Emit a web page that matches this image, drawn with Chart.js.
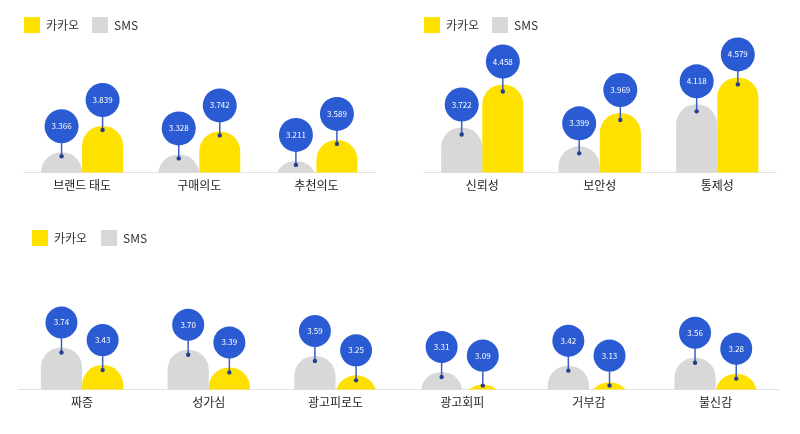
<!DOCTYPE html>
<html>
<head>
<meta charset="utf-8">
<script src="https://cdn.jsdelivr.net/npm/chart.js@4"></script>
<style>
  html, body { margin: 0; padding: 0; background: #fff; }
  body { width: 800px; height: 434px; position: relative; overflow: hidden; }
  canvas { position: absolute; }
</style>
</head>
<body>
<canvas id="intentChart" width="400" height="200" style="left:0;top:0"></canvas>
<canvas id="trustChart" width="400" height="200" style="left:400px;top:0"></canvas>
<canvas id="annoyChart" width="800" height="219" style="left:0;top:215px"></canvas>
<script>
// values
const intentLabels = ['브랜드 태도', '구매의도', '추천의도'];
const intentSms = [3.366, 3.328, 3.211];
const intentKakao = [3.839, 3.742, 3.589];

const trustLabels = ['신뢰성', '보안성', '통제성'];
const trustSms = [3.722, 3.399, 4.118];
const trustKakao = [4.458, 3.969, 4.579];

const annoyLabels = ['짜증', '성가심', '광고피로도', '광고회피', '거부감', '불신감'];
const annoySms = [3.74, 3.70, 3.59, 3.31, 3.42, 3.56];
const annoyKakao = [3.43, 3.39, 3.25, 3.09, 3.13, 3.28];

const YELLOW = '#ffe100';
const GRAY = '#d9d8d8';
const BLUE = '#2a5bd2';
const FONT = "'Noto Sans CJK KR', 'Noto Sans', sans-serif";

// blue pin with the value, standing on top of every bar
const pinPlugin = {
    id: 'pins',
    afterDatasetsDraw(chart, args, opts) {
        const ctx = chart.ctx;
        const base = chart.chartArea.bottom;
        ctx.save();
        chart.data.datasets.forEach((ds, i) => {
            chart.getDatasetMeta(i).data.forEach((bar, j) => {
                const dotY = Math.min(bar.y + opts.dot, base - 4);
                const cy = dotY - 30;
                ctx.strokeStyle = '#3d5cc4';
                ctx.lineWidth = 1.5;
                ctx.beginPath();
                ctx.moveTo(bar.x, cy);
                ctx.lineTo(bar.x, dotY);
                ctx.stroke();
                ctx.fillStyle = '#24408f';
                ctx.beginPath();
                ctx.arc(bar.x, dotY, 2.2, 0, Math.PI * 2);
                ctx.fill();
                ctx.fillStyle = BLUE;
                ctx.beginPath();
                ctx.arc(bar.x, cy, opts.r, 0, Math.PI * 2);
                ctx.fill();
                ctx.fillStyle = '#fff';
                ctx.font = '8px ' + FONT;
                ctx.textAlign = 'center';
                ctx.textBaseline = 'middle';
                ctx.fillText(ds.data[j].toFixed(opts.decimals), bar.x, cy);
            });
        });
        ctx.restore();
    }
};

function makeChart(id, labels, sms, kakao, o) {
    return new Chart(document.getElementById(id), {
        type: 'bar',
        data: {
            labels: labels,
            datasets: [
                {label: 'SMS', data: sms, backgroundColor: GRAY},
                {label: '카카오', data: kakao, backgroundColor: YELLOW}
            ]
        },
        options: {
            responsive: false,
            animation: false,
            layout: {padding: o.pad},
            datasets: {
                bar: {
                    barPercentage: 1,
                    categoryPercentage: o.catPct,
                    borderRadius: 20,
                    borderWidth: 0
                }
            },
            scales: {
                x: {
                    grid: {display: false, drawTicks: false},
                    border: {display: true, color: '#e2e2e2', width: 1},
                    ticks: {color: '#1e1e1e', padding: 6, font: {family: FONT, size: 12}}
                },
                y: {
                    min: o.min,
                    max: o.max,
                    grid: {display: false, drawTicks: false},
                    border: {display: false},
                    ticks: {display: false},
                    afterFit(scale) { scale.width = o.yWidth; }
                }
            },
            plugins: {
                legend: {
                    align: 'start',
                    reverse: true,
                    labels: {
                        boxWidth: 16,
                        boxHeight: 16,
                        padding: o.legendPad,
                        color: '#333',
                        font: {family: FONT, size: 12}
                    }
                },
                tooltip: {enabled: false},
                pins: {r: o.r, decimals: o.decimals, dot: o.dot}
            }
        },
        plugins: [pinPlugin]
    });
}

makeChart('intentChart', intentLabels, intentSms, intentKakao, {
    pad: {left: 11, top: 4, right: 25, bottom: 1},
    yWidth: 12.5, legendPad: 13, catPct: 0.70,
    min: 3, max: 5.333, r: 17, decimals: 3, dot: 4
});
makeChart('trustChart', trustLabels, trustSms, trustKakao, {
    pad: {left: 11, top: 4, right: 24, bottom: 1},
    yWidth: 12.5, legendPad: 13, catPct: 0.70,
    min: 2.95, max: 5.168, r: 17, decimals: 3, dot: 7
});
makeChart('annoyChart', annoyLabels, annoySms, annoyKakao, {
    pad: {left: 18, top: 1, right: 21, bottom: 18},
    yWidth: 0.7, legendPad: 14, catPct: 0.65,
    min: 3, max: 5.345, r: 16, decimals: 2, dot: 5
});
</script>
</body>
</html>
